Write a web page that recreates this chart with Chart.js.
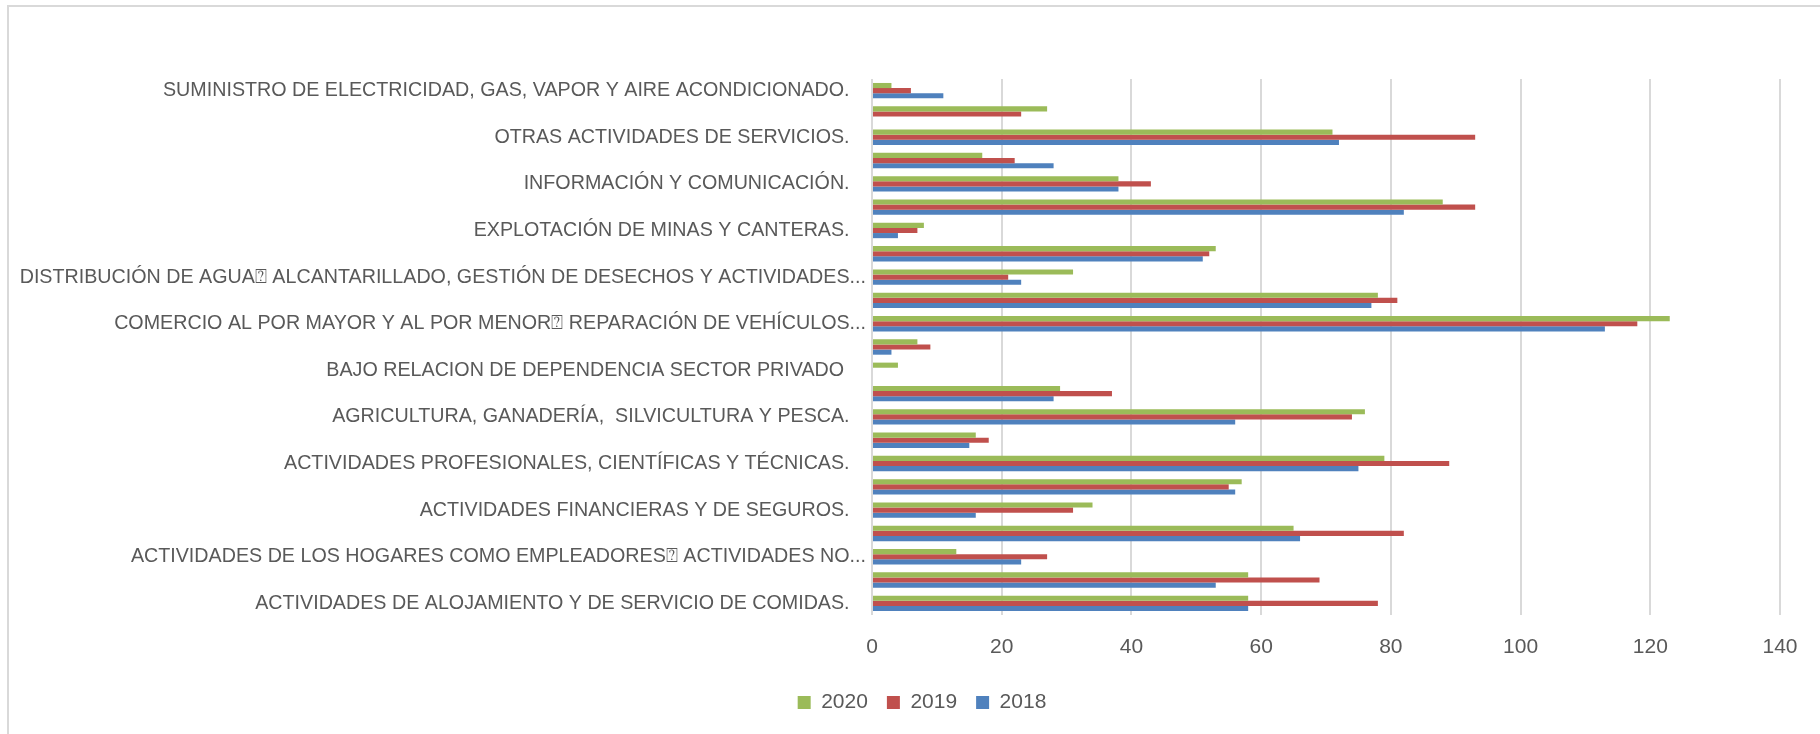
<!DOCTYPE html>
<html>
<head>
<meta charset="utf-8">
<script src="https://cdn.jsdelivr.net/npm/chart.js@4.4.0/dist/chart.umd.min.js"></script>
<style>
    html, body { margin: 0; padding: 0; overflow: hidden; background: #fff; }
    #frame { position: absolute; left: 7px; top: 5px; width: 1840px; height: 760px; border: 2px solid #d9d9d9; }
    #grafico { position: absolute; left: 0; top: 0; }
</style>
</head>
<body>
<div id="frame"></div>
<canvas id="grafico" width="1820" height="734"></canvas>
<script>
// categorias de abajo hacia arriba (como en el grafico original)
const categorias = [
    'ACTIVIDADES DE ALOJAMIENTO Y DE SERVICIO DE COMIDAS.   ',
    'ACTIVIDADES DE ATENCIÓN DE LA SALUD HUMANA Y DE ASISTENCIA SOCIAL.',
    'ACTIVIDADES DE LOS HOGARES COMO EMPLEADORES⍰ ACTIVIDADES NO...',
    'ACTIVIDADES DE SERVICIOS ADMINISTRATIVOS Y DE APOYO.',
    'ACTIVIDADES FINANCIERAS Y DE SEGUROS.   ',
    'ACTIVIDADES INMOBILIARIAS.',
    'ACTIVIDADES PROFESIONALES, CIENTÍFICAS Y TÉCNICAS.   ',
    'ADMINISTRACIÓN PÚBLICA Y DEFENSA.',
    'AGRICULTURA, GANADERÍA,  SILVICULTURA Y PESCA.   ',
    'ARTES, ENTRETENIMIENTO Y RECREACIÓN.',
    'BAJO RELACION DE DEPENDENCIA SECTOR PRIVADO    ',
    'BAJO RELACION DE DEPENDENCIA SECTOR PUBLICO',
    'COMERCIO AL POR MAYOR Y AL POR MENOR⍰ REPARACIÓN DE VEHÍCULOS...',
    'CONSTRUCCIÓN.',
    'DISTRIBUCIÓN DE AGUA⍰ ALCANTARILLADO, GESTIÓN DE DESECHOS Y ACTIVIDADES...',
    'ENSEÑANZA.',
    'EXPLOTACIÓN DE MINAS Y CANTERAS.   ',
    'INDUSTRIAS MANUFACTURERAS.',
    'INFORMACIÓN Y COMUNICACIÓN.   ',
    'NO INFORMA',
    'OTRAS ACTIVIDADES DE SERVICIOS.   ',
    'SIN ACTIVIDAD ECONÓMICA',
    'SUMINISTRO DE ELECTRICIDAD, GAS, VAPOR Y AIRE ACONDICIONADO.   '
]

const datos2020 = [58, 58, 13, 65, 34, 57, 79, 16, 76, 29, 4, 7, 123, 78, 31, 53, 8, 88, 38, 17, 71, 27, 3]
const datos2019 = [78, 69, 27, 82, 31, 55, 89, 18, 74, 37, 0, 9, 118, 81, 21, 52, 7, 93, 43, 22, 93, 23, 6]
const datos2018 = [58, 53, 23, 66, 16, 56, 75, 15, 56, 28, 0, 3, 113, 77, 23, 51, 4, 82, 38, 28, 72, 0, 11]

const ejeX = { min: 0, max: 140, paso: 20 }

const colorTexto = '#595959'
const fuente = "'Liberation Sans', Arial, sans-serif"

const elGrafico = document.getElementById('grafico')

// corre la leyenda un poco a la derecha, como en el original
const moverLeyenda = {
    id: 'moverLeyenda',
    afterLayout(chart) {
        chart.legend.left += 64
    }
}

new Chart(elGrafico, {
    type: 'bar',
    data: {
        labels: categorias,
        datasets: [{
            label: '2020',
            data: datos2020,
            backgroundColor: '#9BBB59'
        }, {
            label: '2019',
            data: datos2019,
            backgroundColor: '#C0504D'
        }, {
            label: '2018',
            data: datos2018,
            backgroundColor: '#4F81BD'
        }]
    },
    options: {
        indexAxis: 'y',
        responsive: false,
        animation: false,
        categoryPercentage: 0.66,
        barPercentage: 1,
        layout: {
            padding: { left: 0, right: 40, top: 79, bottom: 11 }
        },
        scales: {
            x: {
                min: ejeX.min,
                max: ejeX.max,
                ticks: {
                    stepSize: ejeX.paso,
                    padding: 20,
                    color: colorTexto,
                    font: { family: fuente, size: 21 }
                },
                grid: {
                    color: '#d9d9d9',
                    lineWidth: 2,
                    drawTicks: false
                },
                border: { display: false },
                afterFit: s => { s.height = 58 }
            },
            y: {
                reverse: true,
                ticks: {
                    autoSkip: false,
                    padding: 6,
                    color: colorTexto,
                    font: { family: fuente, size: 19.7 },
                    callback: function (v, i) {
                        return i % 2 === 0 ? this.getLabelForValue(v) : ''
                    }
                },
                grid: { display: false, drawTicks: false },
                border: { display: false },
                afterFit: s => { s.width = 872 }
            }
        },
        plugins: {
            legend: {
                position: 'bottom',
                labels: {
                    boxWidth: 13,
                    boxHeight: 13,
                    padding: 19,
                    color: colorTexto,
                    font: { family: fuente, size: 21 }
                }
            },
            tooltip: { enabled: false }
        }
    },
    plugins: [moverLeyenda]
})
</script>
</body>
</html>
